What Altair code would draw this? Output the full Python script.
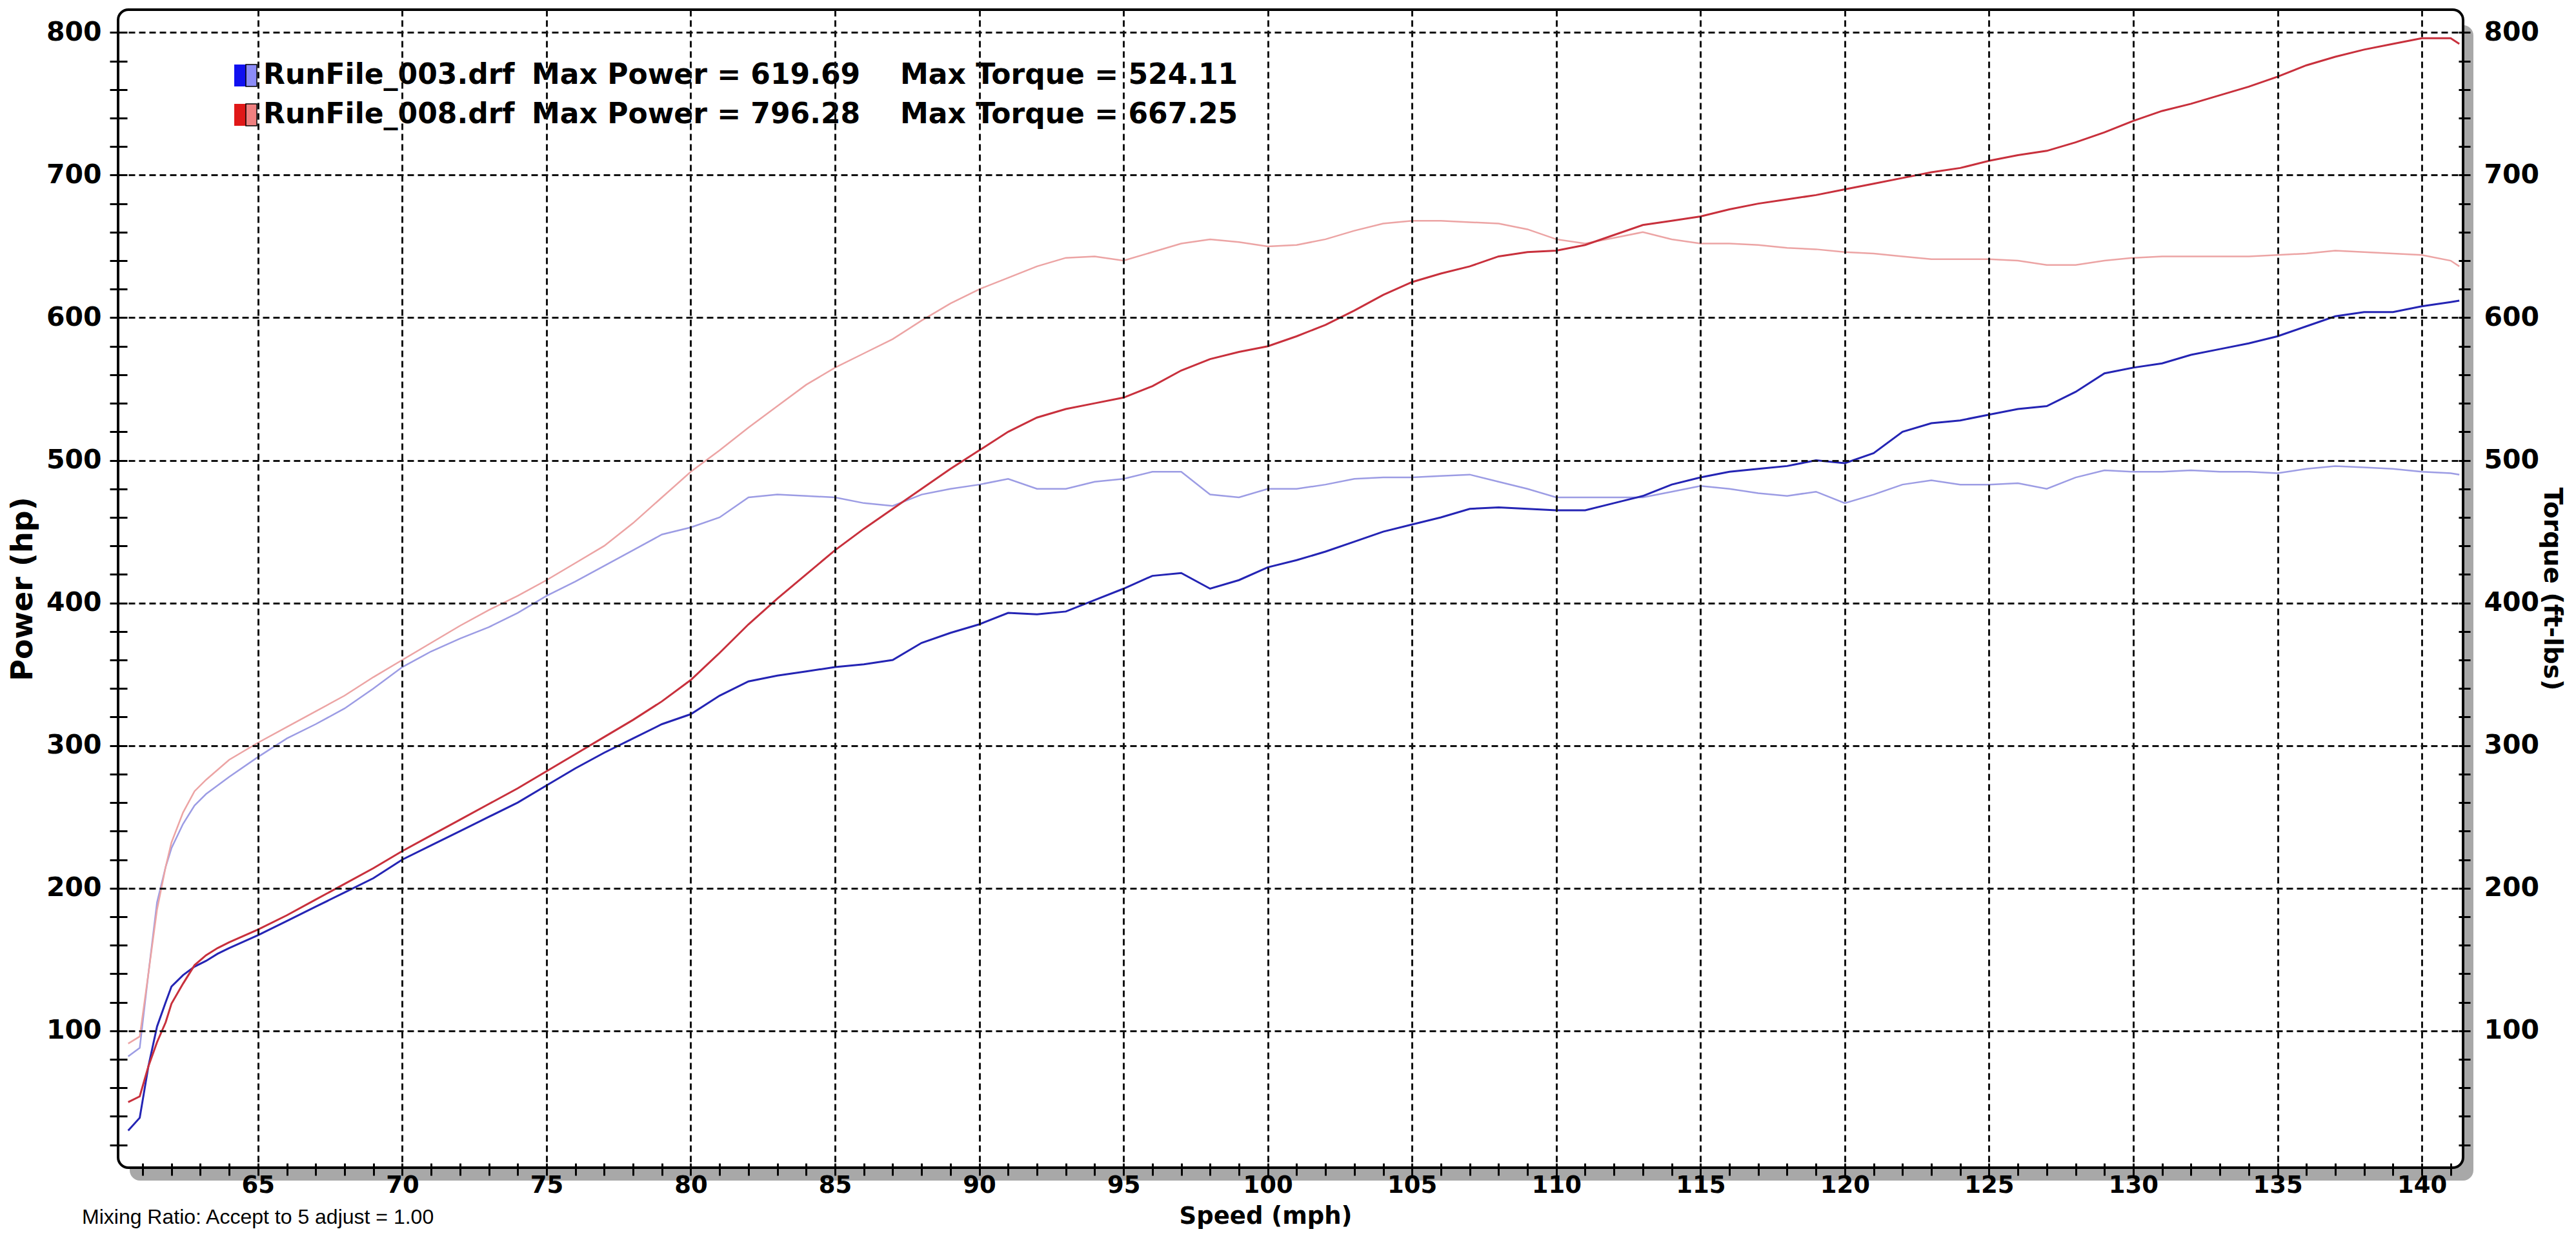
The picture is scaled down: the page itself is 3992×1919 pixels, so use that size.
import altair as alt
import pandas as pd

# ---------------- data ----------------
speed = [60.5, 60.9, 61.2, 61.5, 61.8, 62.0, 62.4, 62.8, 63.2, 63.6, 64,
         65, 66, 67, 68, 69, 70, 71, 72, 73, 74, 75, 76, 77, 78, 79, 80,
         81, 82, 83, 84, 85, 86, 87, 88, 89, 90, 91, 92, 93, 94, 95, 96,
         97, 98, 99, 100, 101, 102, 103, 104, 105, 106, 107, 108, 109, 110,
         111, 112, 113, 114, 115, 116, 117, 118, 119, 120, 121, 122, 123, 124,
         125, 126, 127, 128, 129, 130, 131, 132, 133, 134, 135, 136, 137, 138,
         139, 140, 141, 141.3]

power_003 = [30, 39, 75, 103, 120, 131, 139, 145, 149, 154, 158,
             167, 177, 187, 197, 207, 220, 230, 240, 250, 260, 272, 284, 295, 305, 315, 322,
             335, 345, 349, 352, 355, 357, 360, 372, 379, 385, 393, 392, 394, 402, 410, 419,
             421, 410, 416, 425, 430, 436, 443, 450, 455, 460, 466, 467, 466, 465,
             465, 470, 475, 483, 488, 492, 494, 496, 500, 498, 505, 520, 526, 528,
             532, 536, 538, 548, 561, 565, 568, 574, 578, 582, 587, 594, 601, 604,
             604, 608, 611, 612]

power_008 = [50, 54, 75, 92, 106, 119, 133, 146, 153, 158, 162,
             171, 181, 192, 203, 214, 226, 237, 248, 259, 270, 282, 294, 306, 318, 331, 346,
             365, 385, 403, 420, 437, 452, 466, 480, 494, 507, 520, 530, 536, 540, 544, 552,
             563, 571, 576, 580, 587, 595, 605, 616, 625, 631, 636, 643, 646, 647,
             651, 658, 665, 668, 671, 676, 680, 683, 686, 690, 694, 698, 702, 705,
             710, 714, 717, 723, 730, 738, 745, 750, 756, 762, 769, 777, 783, 788,
             792, 796, 796, 792]

torque_003 = [82, 88, 140, 190, 215, 228, 245, 258, 266, 272, 278,
              292, 305, 315, 326, 340, 355, 366, 375, 383, 393, 405, 415, 426, 437, 448, 453,
              460, 474, 476, 475, 474, 470, 468, 476, 480, 483, 487, 480, 480, 485, 487, 492,
              492, 476, 474, 480, 480, 483, 487, 488, 488, 489, 490, 485, 480, 474,
              474, 474, 474, 478, 482, 480, 477, 475, 478, 470, 476, 483, 486, 483,
              483, 484, 480, 488, 493, 492, 492, 493, 492, 492, 491, 494, 496, 495,
              494, 492, 491, 490]

torque_008 = [91, 96, 140, 185, 215, 232, 253, 268, 276, 283, 290,
              302, 313, 324, 335, 348, 360, 372, 384, 395, 405, 416, 428, 440, 456, 474, 492,
              507, 523, 538, 553, 565, 575, 585, 598, 610, 620, 628, 636, 642, 643, 640, 646,
              652, 655, 653, 650, 651, 655, 661, 666, 668, 668, 667, 666, 662, 655,
              652, 656, 660, 655, 652, 652, 651, 649, 648, 646, 645, 643, 641, 641,
              641, 640, 637, 637, 640, 642, 643, 643, 643, 643, 644, 645, 647, 646,
              645, 644, 640, 636]

series_names = ["003 Power", "008 Power", "003 Torque", "008 Torque"]
series_colors = ["#2424b4", "#c8303c", "#9c9ce4", "#eca4a4"]

files = ["RunFile_003.drf", "RunFile_008.drf"]
max_power = ["619.69", "796.28"]
max_torque = ["524.11", "667.25"]
swatch_dark = ["#1010f0", "#e01818"]
swatch_light = ["#8c8cf8", "#f08080"]

x_ticks = list(range(61, 142))
y_ticks = list(range(20, 801, 20))
note_text = "Mixing Ratio: Accept to 5 adjust = 1.00"

# ---------------- build ----------------
W, H = 3634, 1795
XDOM = [60.15, 141.43]
YDOM = [4, 816]
FONT = "DejaVu Sans"

rows = []
for i, s in enumerate(speed):
    rows.append({"speed": s, "value": power_003[i], "series": "003 Power"})
    rows.append({"speed": s, "value": power_008[i], "series": "008 Power"})
    rows.append({"speed": s, "value": torque_003[i], "series": "003 Torque"})
    rows.append({"speed": s, "value": torque_008[i], "series": "008 Torque"})
df = pd.DataFrame(rows)
power_df = df[df.series.str.contains("Power")]
torque_df = df[df.series.str.contains("Torque")]

color = alt.Color("series:N", scale=alt.Scale(domain=series_names, range=series_colors), legend=None)

x_axis = alt.Axis(
    title="Speed (mph)", orient="bottom", values=x_ticks,
    labelExpr="datum.value % 5 === 0 ? datum.label : ''",
    offset=-7, tickSize=19, tickWidth=3, tickColor="black",
    labelPadding=-3, labelFont=FONT, labelFontWeight="bold", labelFontSize=37,
    labelColor="black", labelOverlap=False, labelFlush=False, domain=False,
    grid=True, gridColor="#111111", gridWidth=3, gridDash=[10, 6],
    gridOpacity={"condition": {"test": "datum.value % 5 === 0", "value": 1}, "value": 0},
    titleFont=FONT, titleFontSize=37, titleFontWeight="bold", titleColor="black",
    titleBaseline="alphabetic", titleX=1778, titleY=93, zindex=1)

x_enc = alt.X("speed:Q", scale=alt.Scale(domain=XDOM, nice=False, zero=False), axis=x_axis)

yl_axis = alt.Axis(
    title="Power (hp)", orient="left", values=y_ticks,
    labelExpr="datum.value % 100 === 0 ? datum.label : ''",
    offset=-14, tickSize=27, tickWidth=3, tickColor="black",
    labelPadding=13, labelFont=FONT, labelFontWeight="bold", labelFontSize=41,
    labelColor="black", labelOverlap=False, labelFlush=False, domain=False,
    grid=True, gridColor="#111111", gridWidth=3, gridDash=[10, 6],
    gridOpacity={"condition": {"test": "datum.value % 100 === 0", "value": 1}, "value": 0},
    titleFont=FONT, titleFontSize=46, titleFontWeight="bold", titleColor="black",
    titlePadding=12, zindex=1)

yr_axis = alt.Axis(
    title="Torque (ft-lbs)", orient="right", values=y_ticks,
    labelExpr="datum.value % 100 === 0 ? datum.label : ''",
    offset=-7, tickSize=18, tickWidth=3, tickColor="black",
    labelPadding=21, labelFont=FONT, labelFontWeight="bold", labelFontSize=41,
    labelColor="black", labelOverlap=False, labelFlush=False, domain=False,
    grid=False,
    titleFont=FONT, titleFontSize=39, titleFontWeight="bold", titleColor="black",
    titlePadding=0, zindex=1)

one = pd.DataFrame({"k": [0]})
shadow = alt.Chart(one).mark_rect(fill="#a8a8a8", cornerRadius=16).encode(
    x=alt.value(18), x2=alt.value(W + 16), y=alt.value(24), y2=alt.value(H + 20))
frame = alt.Chart(one).mark_rect(fill="white", stroke="black", strokeWidth=4, cornerRadius=16).encode(
    x=alt.value(0), x2=alt.value(W), y=alt.value(0), y2=alt.value(H))

torque_lines = alt.Chart(torque_df).mark_line(strokeWidth=2.5).encode(
    x=x_enc,
    y=alt.Y("value:Q", scale=alt.Scale(domain=YDOM, nice=False, zero=False), axis=yr_axis),
    color=color, detail="series:N")

power_lines = alt.Chart(power_df).mark_line(strokeWidth=3).encode(
    x=x_enc,
    y=alt.Y("value:Q", scale=alt.Scale(domain=YDOM, nice=False, zero=False), axis=yl_axis),
    color=color, detail="series:N")

legend_layers = []
row_y = [102, 163]
text_style = dict(font=FONT, fontWeight="bold", fontSize=44, align="left", baseline="middle", color="black")
for i in range(2):
    cy = row_y[i]
    d = pd.DataFrame({"f": [files[i]],
                      "p": [f"Max Power = {max_power[i]}"],
                      "t": [f"Max Torque = {max_torque[i]}"]})
    legend_layers.append(alt.Chart(d).mark_rect(fill=swatch_dark[i]).encode(
        x=alt.value(180), x2=alt.value(198), y=alt.value(cy - 17), y2=alt.value(cy + 17)))
    legend_layers.append(alt.Chart(d).mark_rect(fill=swatch_light[i], stroke="black", strokeWidth=1.5).encode(
        x=alt.value(198), x2=alt.value(215), y=alt.value(cy - 17), y2=alt.value(cy + 17)))
    legend_layers.append(alt.Chart(d).mark_text(**text_style).encode(
        x=alt.value(225), y=alt.value(cy), text="f:N"))
    legend_layers.append(alt.Chart(d).mark_text(**text_style).encode(
        x=alt.value(641), y=alt.value(cy), text="p:N"))
    legend_layers.append(alt.Chart(d).mark_text(**text_style).encode(
        x=alt.value(1212), y=alt.value(cy), text="t:N"))

note = alt.Chart(pd.DataFrame({"t": [note_text]})).mark_text(
    font="Liberation Sans", fontSize=32, align="left", baseline="alphabetic", color="black").encode(
    x=alt.value(-56), y=alt.value(1882), text="t:N")

chart = alt.layer(shadow, frame, torque_lines, power_lines, *legend_layers, note).resolve_scale(
    y="independent"
).properties(
    width=W, height=H,
    autosize=alt.AutoSizeParams(type="none"),
    padding={"left": 175, "top": 7, "right": 167, "bottom": 96},
    background="white",
).configure_view(stroke=None)

chart.save("out.html", embed_options={"renderer": "svg", "actions": False})
